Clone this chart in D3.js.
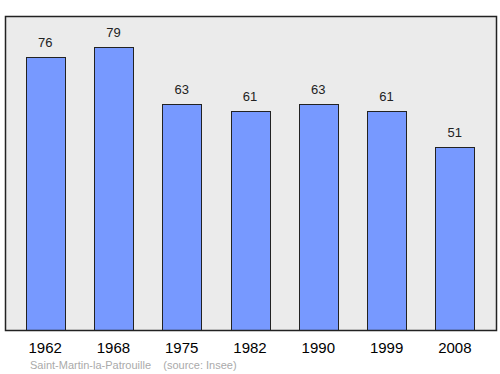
<!DOCTYPE html>
<html>
<head>
<meta charset="utf-8">
<script src="https://cdn.jsdelivr.net/npm/d3@7"></script>
<style>
  body { margin: 0; background: #fff; }
  text { font-family: "Liberation Sans", Arial, sans-serif; }
</style>
</head>
<body>
<div id="chart"></div>
<script>
var years = ["1962", "1968", "1975", "1982", "1990", "1999", "2008"];
var population = [76, 79, 63, 61, 63, 61, 51];

var width = 500, height = 374;
var frame = { left: 5.5, top: 16.5, right: 496.5, bottom: 330.5 };

var svg = d3.select('#chart')
    .append('svg')
    .attr('width', width)
    .attr('height', height);

var x = d3.scaleBand()
    .domain(years)
    .range([11, 489])
    .paddingInner(0.43)
    .paddingOuter(0.215);

var y = d3.scaleLinear()
    .domain([0, 87.5])
    .range([330, 16]);

// plot background
svg.append('rect')
    .attr('x', frame.left)
    .attr('y', frame.top)
    .attr('width', frame.right - frame.left)
    .attr('height', frame.bottom - frame.top)
    .attr('fill', '#ebebeb')
    .attr('stroke', 'none');

svg.selectAll('.bar')
    .data(population)
    .enter().append('rect')
    .attr('class', 'bar')
    .attr('x', function (d, i) { return Math.round(x(years[i])) + 0.5; })
    .attr('y', function (d) { return Math.round(y(d)) + 0.5; })
    .attr('width', Math.round(x.bandwidth()))
    .attr('height', function (d) { return y(0) - Math.round(y(d)); })
    .attr('fill', '#7799ff')
    .attr('stroke', '#222')
    .attr('stroke-width', 1);

svg.selectAll('.val')
    .data(population)
    .enter().append('text')
    .attr('class', 'val')
    .attr('x', function (d, i) { return x(years[i]) + x.bandwidth() / 2; })
    .attr('y', function (d) { return y(d) - 10; })
    .attr('text-anchor', 'middle')
    .attr('font-size', 13)
    .attr('fill', '#222')
    .text(function (d) { return d; });

// frame border on top
svg.append('rect')
    .attr('x', frame.left)
    .attr('y', frame.top)
    .attr('width', frame.right - frame.left)
    .attr('height', frame.bottom - frame.top)
    .attr('fill', 'none')
    .attr('stroke', '#222')
    .attr('stroke-width', 1.5);

var xAxis = d3.axisBottom(x).tickSize(0).tickPadding(0);
svg.append('g')
    .attr('transform', 'translate(0,' + 353 + ')')
    .call(xAxis)
    .call(function (g) { g.select('.domain').remove(); })
    .selectAll('text')
    .attr('dy', 0)
    .attr('font-size', 15)
    .attr('font-family', '"Liberation Sans", Arial, sans-serif')
    .attr('fill', '#000');

svg.append('text')
    .attr('x', 30)
    .attr('y', 369)
    .attr('font-size', 11)
    .attr('fill', '#aaaaaa')
    .attr('xml:space', 'preserve')
    .text('Saint-Martin-la-Patrouille    (source: Insee)');
</script>
</body>
</html>
